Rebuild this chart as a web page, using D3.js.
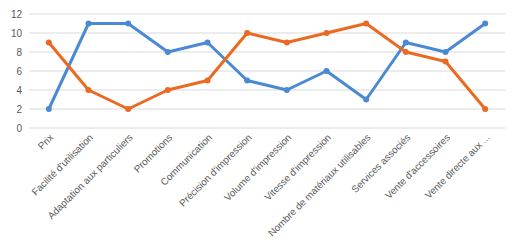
<!DOCTYPE html>
<html>
<head>
<meta charset="utf-8">
<script src="https://cdn.jsdelivr.net/npm/d3@7"></script>
<style>
  body { margin: 0; background: #fff; }
  svg { display: block; font-family: "Open Sans", "DejaVu Sans", sans-serif; }
</style>
</head>
<body>
<div id="chart"></div>
<script>
// categories along the x axis
var categories = ["Prix", "Facilité d'utilisation", "Adaptation aux particuliers", "Promotions",
  "Communication", "Précision d'impression", "Volume d'impression", "Vitesse d'impression",
  "Nombre de matériaux utilisables", "Services associés", "Vente d'accessoires", "Vente directe aux ..."];
var blueValues = [2, 11, 11, 8, 9, 5, 4, 6, 3, 9, 8, 11];
var orangeValues = [9, 4, 2, 4, 5, 10, 9, 10, 11, 8, 7, 2];
var yTicks = [0, 2, 4, 6, 8, 10, 12];

var width = 520, height = 245;
var margin = { top: 14, right: 15, bottom: 117, left: 29 };

var svg = d3.select("#chart").append("svg")
    .attr("width", width)
    .attr("height", height);

var x = d3.scaleBand()
    .domain(categories)
    .range([margin.left, width - margin.right]);

var y = d3.scaleLinear()
    .domain([0, 12])
    .range([height - margin.bottom, margin.top]);

// gridlines
svg.append("g")
    .selectAll("line")
    .data(yTicks)
    .enter()
    .append("line")
    .attr("x1", margin.left)
    .attr("x2", width - margin.right)
    .attr("y1", d => y(d))
    .attr("y2", d => y(d))
    .attr("stroke", "#d9d9d9")
    .attr("stroke-width", 1);

// y axis labels
var yAxis = svg.append("g")
    .attr("transform", "translate(" + margin.left + ",0)")
    .call(d3.axisLeft(y).tickValues(yTicks).tickSize(0).tickPadding(7));
yAxis.select(".domain").remove();
yAxis.selectAll("text").attr("font-size", 10).attr("fill", "#595959");

// x axis labels, rotated
var xAxis = svg.append("g")
    .attr("transform", "translate(0," + y(0) + ")")
    .call(d3.axisBottom(x).tickSize(0));
xAxis.select(".domain").remove();
xAxis.selectAll("text")
    .attr("font-size", 9.8)
    .attr("fill", "#595959")
    .attr("text-anchor", "end")
    .attr("dx", "0")
    .attr("dy", "0")
    .attr("transform", "translate(3,8) rotate(-45)");

var cx = d => x(d) + x.bandwidth() / 2;

function drawSeries(values, color) {
    var pts = categories.map((c, i) => [cx(c), y(values[i])]);
    svg.append("path")
        .datum(pts)
        .attr("fill", "none")
        .attr("stroke", color)
        .attr("stroke-width", 3)
        .attr("stroke-linejoin", "round")
        .attr("d", d3.line());
    svg.append("g")
        .selectAll("circle")
        .data(pts)
        .enter()
        .append("circle")
        .attr("cx", d => d[0])
        .attr("cy", d => d[1])
        .attr("r", 3)
        .attr("fill", color);
}

drawSeries(blueValues, "#4a8ad2");
drawSeries(orangeValues, "#ea6a22");
</script>
</body>
</html>
